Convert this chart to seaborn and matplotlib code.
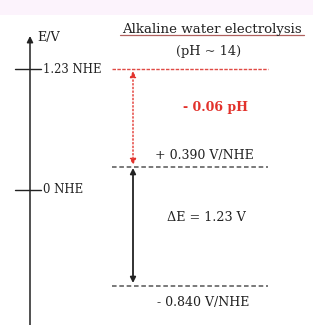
import matplotlib
matplotlib.use("Agg")
import matplotlib.pyplot as plt
import pandas as pd
import seaborn as sns

# ---- content (schematic diagram; y in schematic volts) ----
title = "Alkaline water electrolysis"
subtitle = "(pH ~ 14)"
axis_label = "E/V"
axis_tick_pos = [1.23, 0.0]
axis_tick_labels = ["1.23 NHE", "0 NHE"]
level_pos = [1.23, 0.234, -0.976]
level_labels = ["", "+ 0.390 V/NHE", "- 0.840 V/NHE"]
level_kinds = ["ref", "band", "band"]
shift_label = "- 0.06 pH"
gap_label = "\u0394E = 1.23 V"

sns.set_theme(style="white")
plt.rcParams["font.family"] = ["DejaVu Serif"]

W, H = 314, 325
PX_PER_V = 98.37
Y0 = 190.0


def v(py):
    return (Y0 - py) / PX_PER_V


fig = plt.figure(figsize=(W / 100, H / 100), dpi=100)
ax = fig.add_axes([0, 0, 1, 1])
ax.set_xlim(0, W)
ax.set_ylim(v(H), v(0))
ax.axis("off")

ink = "#222222"
red = "#e2312b"

# top pink band
ax.axhspan(v(15), v(0), xmin=0, xmax=313 / W, color="#fcf3fc", lw=0)

# vertical energy axis
ax.annotate("", xy=(30, v(36)), xytext=(30, v(H + 2)),
            arrowprops=dict(arrowstyle="-|>", color=ink, lw=1.1,
                            mutation_scale=9, shrinkA=0, shrinkB=0))
ax.text(37, v(38), axis_label, fontsize=9.2, color=ink, ha="left", va="center")

for p, lab in zip(axis_tick_pos, axis_tick_labels):
    ax.plot([15, 41], [p, p], color=ink, lw=1)
    ax.text(43, p, lab, fontsize=8.4, color=ink, ha="left", va="center")

# level lines
rows = []
for i, (p, k) in enumerate(zip(level_pos, level_kinds)):
    rows += [dict(x=112, y=p, level=i, kind=k), dict(x=268, y=p, level=i, kind=k)]
df = pd.DataFrame(rows)
sns.lineplot(data=df[df.kind == "ref"], x="x", y="y", units="level",
             estimator=None, color="#e04a45", lw=1.0, ax=ax,
             legend=False, linestyle=(0, (2.5, 1)))
sns.lineplot(data=df[df.kind == "band"], x="x", y="y", units="level",
             estimator=None, color="#555555", lw=1.1, ax=ax,
             legend=False, linestyle=(0, (3, 1.8)))
ax.set_xlabel("")
ax.set_ylabel("")
ax.axis("off")

ax.text(155, level_pos[1] + 8 / PX_PER_V, level_labels[1], fontsize=9,
        color=ink, ha="left", va="baseline")
ax.text(157, level_pos[2] - 16 / PX_PER_V, level_labels[2], fontsize=9,
        color=ink, ha="left", va="center")

# red dotted double arrow (pH shift)
ax.annotate("", xy=(133, level_pos[1] + 2 / PX_PER_V),
            xytext=(133, level_pos[0] - 2 / PX_PER_V),
            arrowprops=dict(arrowstyle="<|-|>", color=red, lw=1.0,
                            linestyle=":", mutation_scale=9,
                            shrinkA=0, shrinkB=0))
ax.text(183, v(108), shift_label, fontsize=9, color=red, fontweight="bold",
        ha="left", va="center")

# black double arrow (delta E)
ax.annotate("", xy=(133, level_pos[2] + 3 / PX_PER_V),
            xytext=(133, level_pos[1] - 1 / PX_PER_V),
            arrowprops=dict(arrowstyle="<|-|>", color=ink, lw=1.3,
                            mutation_scale=8, shrinkA=0, shrinkB=0))
ax.text(167, v(218), gap_label, fontsize=9.2, color=ink, ha="left", va="center")

# title
ax.text(212, v(33), title, fontsize=9.6, color=ink, ha="center", va="baseline")
ax.plot([120, 304], [v(35.5), v(35.5)], color="#b0605e", lw=0.9)
ax.text(209, v(52), subtitle, fontsize=9.4, color=ink, ha="center", va="center")

fig.savefig("out.png", dpi=100, facecolor="white")
